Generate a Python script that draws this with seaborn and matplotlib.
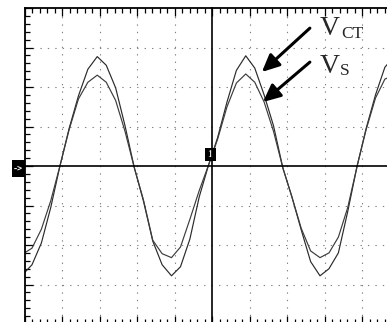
import numpy as np
import pandas as pd
import matplotlib
matplotlib.use("Agg")
import matplotlib.pyplot as plt
import seaborn as sns
from matplotlib.patches import Rectangle
from matplotlib.ticker import MultipleLocator

# time axis in scope divisions
t_div = [0.00, 0.20, 0.45, 0.70, 0.95, 1.19, 1.44, 1.69, 1.94, 2.18, 2.43,
         2.68, 2.93, 3.17, 3.42, 3.67, 3.92, 4.16, 4.41, 4.66, 4.91, 5.15,
         5.40, 5.65, 5.90, 6.14, 6.39, 6.64, 6.89, 7.13, 7.38, 7.63, 7.88,
         8.12, 8.37, 8.62, 8.87, 9.11, 9.36, 9.61, 9.86, 10.10]
# V_CT trace (divisions)
v_ct = [-2.70, -2.50, -1.95, -1.05, 0.02, 0.95, 1.78, 2.45, 2.77, 2.55, 1.98,
        1.02, -0.05, -0.88, -1.90, -2.50, -2.78, -2.55, -1.85, -0.78, 0.03, 0.72,
        1.62, 2.42, 2.79, 2.48, 1.80, 1.02, -0.05, -0.78, -1.62, -2.42, -2.78,
        -2.60, -2.20, -1.15, 0.00, 0.95, 1.80, 2.50, 2.78, 2.55]
# V_S trace (divisions)
v_s = [-2.20, -2.08, -1.60, -0.88, 0.02, 0.92, 1.70, 2.12, 2.30, 2.12, 1.66,
       0.88, -0.05, -0.85, -1.88, -2.22, -2.32, -2.05, -1.35, -0.62, 0.03, 0.68,
       1.50, 2.10, 2.33, 2.12, 1.62, 0.88, -0.05, -0.78, -1.58, -2.15, -2.32,
       -2.20, -1.80, -1.05, 0.00, 0.92, 1.72, 2.20, 2.30, 2.12]
labels = ["V", "CT", "S"]

df = pd.DataFrame({"t": t_div * 2,
                   "v": v_ct + v_s,
                   "trace": ["VCT"] * len(t_div) + ["VS"] * len(t_div)})

sns.set_style("white")
plt.rcParams["font.family"] = ["Liberation Serif", "DejaVu Serif"]

W, H = 387, 322
fig = plt.figure(figsize=(W / 100, H / 100), dpi=100)
left_px, top_px, divx, divy = 24.5, 8.0, 37.5, 39.5
ax_w = 10 * divx
ax_h = 8 * divy
rect = [left_px / W, 1 - (top_px + ax_h) / H, ax_w / W, ax_h / H]
ax = fig.add_axes(rect)

sns.lineplot(data=df, x="t", y="v", hue="trace", palette=["#2a2a2a", "#3c3c3c"],
             ax=ax, legend=False, linewidth=0.85, sort=False, estimator=None)

ax.set_xlim(0, 10)
ax.set_ylim(-4, 4)
ax.set_xlabel("")
ax.set_ylabel("")

# dotted graticule
for gx in range(1, 10):
    if gx != 5:
        ax.axvline(gx, color="#808080", lw=0.8, ls=(0, (1.2, 5.5)), zorder=0)
for gy in range(-3, 4):
    if gy != 0:
        ax.axhline(gy, color="#808080", lw=0.8, ls=(0, (1.2, 5.5)), zorder=0)

for s in ax.spines.values():
    s.set_color("black")
    s.set_linewidth(1.3)
ax.xaxis.set_major_locator(MultipleLocator(1))
ax.xaxis.set_minor_locator(MultipleLocator(0.2))
ax.yaxis.set_major_locator(MultipleLocator(1))
ax.yaxis.set_minor_locator(MultipleLocator(0.2))
ax.tick_params(which="both", direction="in", top=True, bottom=True, left=True,
               right=True, labelbottom=False, labelleft=False, color="black",
               width=0.9)
ax.tick_params(which="major", length=6)
ax.tick_params(which="minor", length=3.5)

# center cross axes
ax2 = fig.add_axes(rect, facecolor="none")
ax2.set_xlim(0, 10)
ax2.set_ylim(-4, 4)
for k in ["top", "right"]:
    ax2.spines[k].set_visible(False)
ax2.spines["left"].set_position(("data", 5))
ax2.spines["bottom"].set_position(("data", 0))
for k in ["left", "bottom"]:
    ax2.spines[k].set_color("black")
    ax2.spines[k].set_linewidth(1.2)
ax2.xaxis.set_major_locator(MultipleLocator(1))
ax2.xaxis.set_minor_locator(MultipleLocator(0.2))
ax2.yaxis.set_major_locator(MultipleLocator(1))
ax2.yaxis.set_minor_locator(MultipleLocator(0.2))
ax2.tick_params(which="both", direction="inout", labelbottom=False,
                labelleft=False, color="black", width=0.9)
ax2.tick_params(which="major", length=7)
ax2.tick_params(which="minor", length=5.5)

# ground marker and trigger marker
ax.add_patch(Rectangle((-0.34, -0.28), 0.34, 0.43, facecolor="black",
                       edgecolor="none", clip_on=False, zorder=5))
ax.text(-0.17, -0.06, "->", color="white", fontsize=6, fontweight="bold",
        ha="center", va="center", family="DejaVu Sans Mono", clip_on=False,
        zorder=6)
ax.add_patch(Rectangle((4.81, 0.13), 0.29, 0.33, facecolor="black",
                       edgecolor="none", clip_on=False, zorder=5))
ax.text(4.955, 0.29, "1", color="white", fontsize=8, fontweight="bold",
        ha="center", va="center", clip_on=False, zorder=6)

# labels
ax.text(7.87, 3.32, labels[0], fontsize=20, ha="left", va="baseline", zorder=6)
ax.text(8.44, 3.24, labels[1], fontsize=12.5, ha="left", va="baseline", zorder=6)
ax.text(7.87, 2.35, labels[0], fontsize=20, ha="left", va="baseline", zorder=6)
ax.text(8.41, 2.30, labels[2], fontsize=12.5, ha="left", va="baseline", zorder=6)

arrow = dict(arrowstyle="-|>,head_length=0.75,head_width=0.35", color="black",
             lw=2.2, mutation_scale=14, shrinkA=0, shrinkB=0)
ax.annotate("", xy=(6.33, 2.38), xytext=(7.61, 3.49), arrowprops=arrow, zorder=6)
ax.annotate("", xy=(6.36, 1.62), xytext=(7.61, 2.63), arrowprops=arrow, zorder=6)

fig.savefig("out.png", dpi=100, facecolor="white")
